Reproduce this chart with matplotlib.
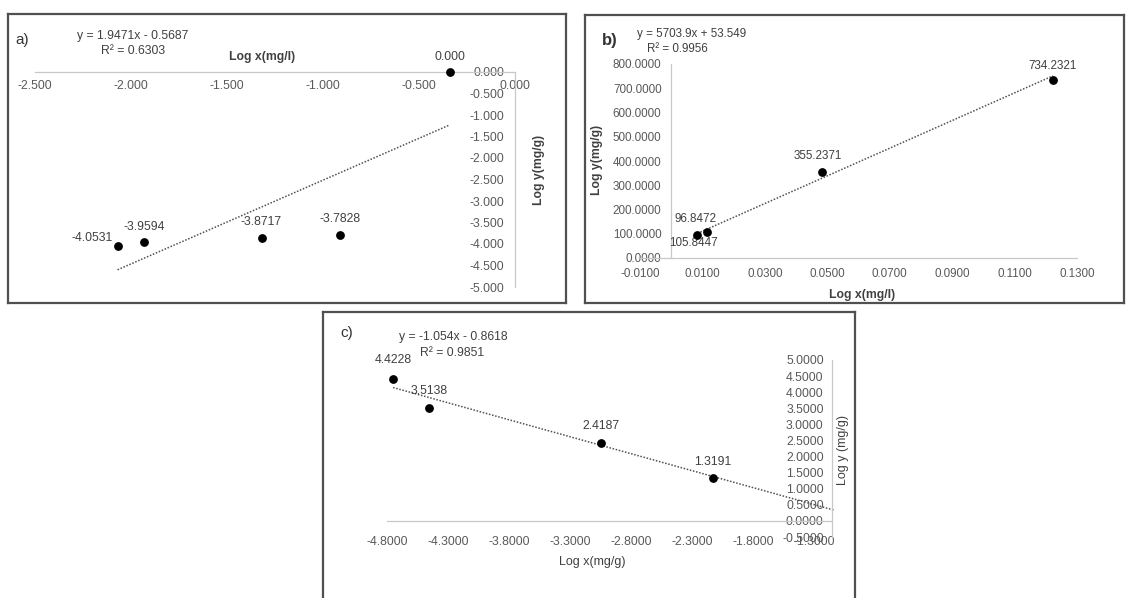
import matplotlib
matplotlib.use("Agg")
import matplotlib.pyplot as plt
from matplotlib.ticker import FixedLocator, FormatStrFormatter
import numpy as np

plt.rcParams["font.family"] = ["Liberation Sans", "DejaVu Sans"]
plt.rcParams["axes.unicode_minus"] = False

# ---------------- data ----------------
# a) Freundlich-type plot
a_x = [-2.07, -1.93, -1.32, -0.91, -0.34]
a_y = [-4.0531, -3.9594, -3.8717, -3.7828, 0.000]
a_dec = [4, 4, 4, 4, 3]
a_slope, a_icpt, a_r2 = 1.9471, -0.5687, 0.6303
a_xticks = [-2.5, -2.0, -1.5, -1.0, -0.5, 0.0]
a_yticks = [0.0, -0.5, -1.0, -1.5, -2.0, -2.5, -3.0, -3.5, -4.0, -4.5, -5.0]

# b) linear plot
b_x = [0.0084, 0.0116, 0.0484, 0.1223]
b_y = [96.8472, 105.8447, 355.2371, 734.2321]
b_slope, b_icpt, b_r2 = 5703.9, 53.549, 0.9956
b_xticks = [-0.01, 0.01, 0.03, 0.05, 0.07, 0.09, 0.11, 0.13]
b_yticks = [0, 100, 200, 300, 400, 500, 600, 700, 800]

# c) log plot
c_x = [-4.75, -4.456, -3.046, -2.128]
c_y = [4.4228, 3.5138, 2.4187, 1.3191]
c_slope, c_icpt, c_r2 = -1.054, -0.8618, 0.9851
c_forward = 1.0
c_xticks = [-4.8, -4.3, -3.8, -3.3, -2.8, -2.3, -1.8, -1.3]
c_yticks = [-0.5, 0.0, 0.5, 1.0, 1.5, 2.0, 2.5, 3.0, 3.5, 4.0, 4.5, 5.0]

# ---------------- layout helpers ----------------
W, H = 1132, 598
fig = plt.figure(figsize=(W / 100, H / 100), dpi=100)
fig.patch.set_facecolor("white")


def box(l, t, r, b):
    return [l / W, 1 - b / H, (r - l) / W, (b - t) / H]


def fx(x):
    return x / W


def fy(y):
    return 1 - y / H


def frame(l, t, r, b):
    fa = fig.add_axes(box(l, t, r, b), zorder=0)
    fa.set_xticks([])
    fa.set_yticks([])
    for s in fa.spines.values():
        s.set_color("#505050")
        s.set_linewidth(1.6)
    fa.set_facecolor("white")
    return fa


LBL_COL = "#404040"
AX_COL = "#c8c8c8"
TREND = dict(color="#505050", lw=1.1, ls=(0, (1, 1.1)))


def style_axes(ax, fmt, xt, yt, pad_x, pad_y, fs):
    ax.set_facecolor("none")
    ax.xaxis.set_major_locator(FixedLocator(xt))
    ax.yaxis.set_major_locator(FixedLocator(yt))
    ax.xaxis.set_major_formatter(FormatStrFormatter(fmt[0]))
    ax.yaxis.set_major_formatter(FormatStrFormatter(fmt[1]))
    ax.tick_params(axis="x", length=0, pad=pad_x, labelsize=fs, labelcolor="#595959")
    ax.tick_params(axis="y", length=0, pad=pad_y, labelsize=fs, labelcolor="#595959")
    for s in ("top", "right"):
        ax.spines[s].set_visible(False)
    for s in ("left", "bottom"):
        ax.spines[s].set_color(AX_COL)
        ax.spines[s].set_linewidth(0.9)


def label_point(ax, x, y, text, dx, dy, fs):
    ax.annotate(text, (x, y), xytext=(dx * 0.72, dy * 0.72), textcoords="offset points",
                ha="center", va="center", fontsize=fs, color=LBL_COL,
                annotation_clip=False)


# ---------------- panel a ----------------
FS_A = 8.8
frame(8, 14, 566, 303)
axa = fig.add_axes(box(35, 72, 515, 287), zorder=2)
axa.set_xlim(-2.5, 0.0)
axa.set_ylim(-5.0, 0.0)
style_axes(axa, ("%.3f", "%.3f"), a_xticks, a_yticks, 5.5, 8, FS_A)
axa.spines["bottom"].set_position(("data", 0))
axa.spines["left"].set_position(("data", 0))
axa.scatter(a_x, a_y, s=28, color="black", zorder=4, clip_on=False)
xs = np.array([min(a_x), max(a_x)])
axa.plot(xs, a_slope * xs + a_icpt, **TREND)
a_off = [(-25, 8), (0, 15), (0, 16), (0, 16), (0, 15)]
for x, y, d, (dx, dy) in zip(a_x, a_y, a_dec, a_off):
    label_point(axa, x, y, f"{y:.{d}f}", dx, dy, FS_A)

fig.text(fx(22), fy(40), "a)", fontsize=11, color="#333333", ha="center", va="center")
fig.text(fx(133), fy(36), f"y = {a_slope:.4f}x - {abs(a_icpt):.4f}", fontsize=FS_A,
         color=LBL_COL, ha="center", va="center")
fig.text(fx(133), fy(51), f"R² = {a_r2:.4f}", fontsize=FS_A, color=LBL_COL,
         ha="center", va="center")
fig.text(fx(262), fy(57), "Log x(mg/l)", fontsize=8.8, fontweight="bold", color="#404040",
         ha="center", va="center")
fig.text(fx(539), fy(170), "Log y(mg/g)", fontsize=8.8, fontweight="bold", color="#404040",
         ha="center", va="center", rotation=90)

# ---------------- panel b ----------------
FS_B = 8.4
frame(585, 15, 1124, 303)
axb = fig.add_axes(box(640, 64, 1077, 258), zorder=2)
axb.set_xlim(-0.01, 0.13)
axb.set_ylim(0, 800)
style_axes(axb, ("%.4f", "%.4f"), b_xticks, b_yticks, 7, 7, FS_B)
axb.spines["left"].set_position(("data", 0))
axb.scatter(b_x, b_y, s=28, color="black", zorder=4, clip_on=False)
xs = np.array([min(b_x), max(b_x)])
axb.plot(xs, b_slope * xs + b_icpt, **TREND)
b_off = [(-2, 16), (-14, -11), (-4, 16), (0, 14)]
for x, y, (dx, dy) in zip(b_x, b_y, b_off):
    label_point(axb, x, y, f"{y:.4f}", dx, dy, FS_B)

fig.text(fx(610), fy(40), "b)", fontsize=12, fontweight="bold", color="#333333",
         ha="center", va="center")
fig.text(fx(692), fy(34), f"y = {b_slope:.1f}x + {b_icpt:.3f}", fontsize=FS_B,
         color=LBL_COL, ha="center", va="center")
fig.text(fx(677), fy(49), f"R² = {b_r2:.4f}", fontsize=FS_B, color=LBL_COL,
         ha="center", va="center")
fig.text(fx(862), fy(295), "Log x(mg/l)", fontsize=8.8, fontweight="bold", color="#404040",
         ha="center", va="center")
fig.text(fx(597), fy(160), "Log y(mg/g)", fontsize=8.8, fontweight="bold", color="#404040",
         ha="center", va="center", rotation=90)

# ---------------- panel c ----------------
FS_C = 8.8
frame(323, 312, 855, 640)
axc = fig.add_axes(box(387, 360, 832, 537), zorder=2)
axc.set_xlim(-4.8, -1.152)
axc.set_ylim(-0.5, 5.0)
style_axes(axc, ("%.4f", "%.4f"), c_xticks, c_yticks, 11, 6, FS_C)
axc.spines["bottom"].set_position(("data", 0))
axc.spines["left"].set_position(("axes", 1.0))
axc.scatter(c_x, c_y, s=28, color="black", zorder=4, clip_on=False)
xs = np.array([min(c_x), max(c_x) + c_forward])
axc.plot(xs, c_slope * xs + c_icpt, clip_on=False, **TREND)
c_off = [(0, 19), (0, 17), (0, 17), (0, 16)]
for x, y, (dx, dy) in zip(c_x, c_y, c_off):
    label_point(axc, x, y, f"{y:.4f}", dx, dy, FS_C)

fig.text(fx(347), fy(333), "c)", fontsize=11, color="#333333", ha="center", va="center")
fig.text(fx(453), fy(337), f"y = {c_slope:.3f}x - {abs(c_icpt):.4f}", fontsize=FS_C,
         color=LBL_COL, ha="center", va="center")
fig.text(fx(452), fy(353), f"R² = {c_r2:.4f}", fontsize=FS_C, color=LBL_COL,
         ha="center", va="center")
fig.text(fx(592), fy(562), "Log x(mg/g)", fontsize=9, color="#404040",
         ha="center", va="center")
fig.text(fx(843), fy(450), "Log y (mg/g)", fontsize=9, color="#404040",
         ha="center", va="center", rotation=90)

fig.savefig("out.png", dpi=100, facecolor="white")
